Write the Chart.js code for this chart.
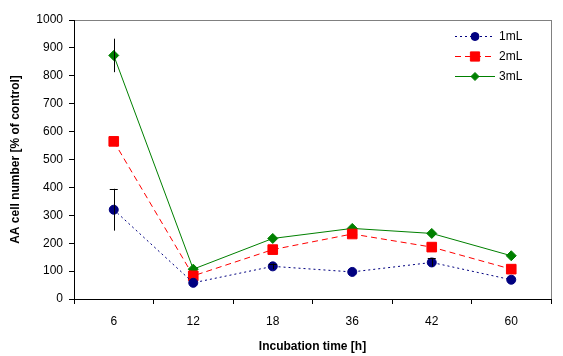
<!DOCTYPE html>
<html>
<head>
<meta charset="utf-8">
<script src="https://cdn.jsdelivr.net/npm/chart.js@4/dist/chart.umd.min.js"></script>
<style>
html,body{margin:0;padding:0;background:#fff;}
#wrap{width:563px;height:356px;}
</style>
</head>
<body>
<div id="wrap"><canvas id="c" width="563" height="356"></canvas></div>
<script>
const categories = ['6', '12', '18', '36', '42', '60'];
const seriesNames = ['1mL', '2mL', '3mL'];
const values1mL = [320, 58, 117, 97, 131, 69];
const values2mL = [565, 83, 177, 233, 186, 107];
const values3mL = [873, 107, 217, 253, 235, 155];
const errors1mL = [75, 0, 10, 0, 15, 0];
const errors2mL = [0, 0, 0, 0, 0, 0];
const errors3mL = [60, 0, 0, 0, 0, 0];
const yTicks = [0, 100, 200, 300, 400, 500, 600, 700, 800, 900, 1000];

const FONT = "'Liberation Sans', Arial, sans-serif";

const errorBars = {
  id: 'errorBars',
  afterDatasetsDraw(chart) {
    const ctx = chart.ctx;
    const y = chart.scales.y;
    chart.data.datasets.forEach((ds, i) => {
      const meta = chart.getDatasetMeta(i);
      ds.errors.forEach((e, j) => {
        if (!e) return;
        const pt = meta.data[j];
        const v = ds.data[j];
        const yt = y.getPixelForValue(v + e);
        const yb = y.getPixelForValue(v - e);
        ctx.save();
        ctx.strokeStyle = '#000';
        ctx.lineWidth = 1;
        ctx.beginPath();
        ctx.moveTo(Math.round(pt.x) + 0.5, yt);
        ctx.lineTo(Math.round(pt.x) + 0.5, yb);
        if (ds.cap) {
          ctx.moveTo(pt.x - 4, Math.round(yt) + 0.5);
          ctx.lineTo(pt.x + 4, Math.round(yt) + 0.5);
        }
        ctx.stroke();
        ctx.restore();
      });
    });
  }
};

const frame = {
  id: 'frame',
  beforeDraw(chart) {
    const a = chart.chartArea;
    const ctx = chart.ctx;
    ctx.save();
    ctx.fillStyle = '#fff';
    ctx.fillRect(0, 0, chart.width, chart.height);
    ctx.strokeStyle = '#808080';
    ctx.lineWidth = 1;
    ctx.strokeRect(Math.round(a.left) + 0.5, Math.round(a.top) + 0.5, Math.round(a.right - a.left), Math.round(a.bottom - a.top));
    ctx.restore();
  }
};

const customLegend = {
  id: 'customLegend',
  afterDraw(chart) {
    const ctx = chart.ctx;
    const a = chart.chartArea;
    const x0 = a.right - 96, x1 = a.right - 56, tx = a.right - 52;
    chart.data.datasets.forEach((ds, i) => {
      const yy = a.top + 16 + i * 20;
      ctx.save();
      ctx.strokeStyle = ds.borderColor;
      ctx.lineWidth = 1;
      ctx.setLineDash(ds.borderDash || []);
      ctx.beginPath();
      ctx.moveTo(x0, yy + 0.5);
      ctx.lineTo(x1, yy + 0.5);
      ctx.stroke();
      ctx.setLineDash([]);
      ctx.fillStyle = ds.pointBackgroundColor;
      ctx.strokeStyle = ds.pointBorderColor;
      Chart.helpers.drawPoint(ctx, {pointStyle: ds.pointStyle, radius: ds.legendRadius, borderWidth: 1}, (x0 + x1) / 2, yy + 0.5);
      ctx.fillStyle = '#000';
      ctx.font = '12px ' + FONT;
      ctx.textAlign = 'left';
      ctx.textBaseline = 'middle';
      ctx.fillText(ds.label, tx, yy + 1);
      ctx.restore();
    });
  }
};

new Chart(document.getElementById('c'), {
  type: 'line',
  data: {
    labels: categories,
    datasets: [
      {
        label: seriesNames[0], data: values1mL, errors: errors1mL, cap: true,
        borderColor: '#000080', borderWidth: 1, borderDash: [2, 3],
        pointStyle: 'circle', pointRadius: 4.5, legendRadius: 4,
        pointBackgroundColor: '#000080', pointBorderColor: '#000080', tension: 0
      },
      {
        label: seriesNames[1], data: values2mL, errors: errors2mL, cap: false,
        borderColor: '#ff0000', borderWidth: 1, borderDash: [6, 4],
        pointStyle: 'rect', pointRadius: 6.8, legendRadius: 6.5,
        pointBackgroundColor: '#ff0000', pointBorderColor: '#ff0000', tension: 0
      },
      {
        label: seriesNames[2], data: values3mL, errors: errors3mL, cap: false,
        borderColor: '#008000', borderWidth: 1,
        pointStyle: 'rectRot', pointRadius: 5, legendRadius: 4,
        pointBackgroundColor: '#008000', pointBorderColor: '#008000', tension: 0
      }
    ]
  },
  options: {
    responsive: false,
    animation: false,
    devicePixelRatio: 1,
    layout: { padding: { left: 0, right: 12, top: 20, bottom: 0 } },
    plugins: { legend: { display: false }, tooltip: { enabled: false } },
    scales: {
      x: {
        offset: true,
        grid: { offset: true, drawOnChartArea: false, drawTicks: true, tickLength: 5, color: '#000' },
        border: { color: '#000', width: 1 },
        ticks: { color: '#000', font: { family: FONT, size: 12 }, padding: 10, maxRotation: 0, autoSkip: false },
        title: { display: true, text: 'Incubation time [h]', color: '#000', font: { family: FONT, size: 12, weight: 'bold' }, padding: { top: 0, bottom: 2 } },
        afterFit(s) { s.height = 57; }
      },
      y: {
        min: 0, max: 1000,
        afterBuildTicks(s) { s.ticks = yTicks.map(v => ({ value: v })); },
        grid: { drawOnChartArea: false, drawTicks: true, tickLength: 5, color: '#000' },
        border: { color: '#000', width: 1 },
        ticks: { color: '#000', font: { family: FONT, size: 12 }, padding: 6, callback: v => String(v) },
        title: { display: true, text: 'AA cell number [% of control]', color: '#000', font: { family: FONT, size: 12, weight: 'bold' }, padding: { top: 8, bottom: 0 } },
        afterFit(s) { s.width = 74; }
      }
    }
  },
  plugins: [frame, errorBars, customLegend]
});
</script>
</body>
</html>
